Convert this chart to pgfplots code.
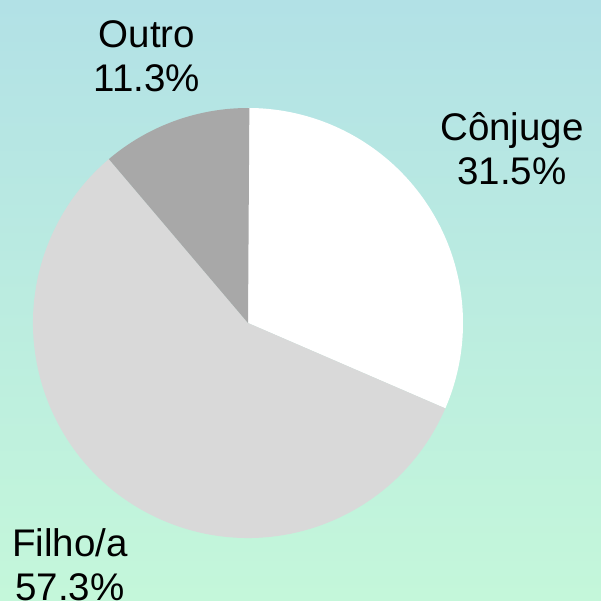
\documentclass[border=0pt]{standalone}
\usepackage{fontspec}
\setmainfont{Liberation Sans}
\usepackage{pgfplots}
\usepackage{pgfplotstable}
\pgfplotsset{compat=1.18}

\definecolor{bgtop}{RGB}{178,225,230}
\definecolor{bgbot}{RGB}{196,247,218}
\definecolor{cconj}{RGB}{255,255,255}
\definecolor{cfilho}{RGB}{217,217,217}
\definecolor{coutro}{RGB}{168,168,168}

% share (%) and label position (pt from pie centre)
\pgfplotstableread[col sep=comma]{
label,pct,lx,ly
Cônjuge,31.5,264,174
Filho/a,57.3,-178,-242
Outro,11.3,-101,267
}\piedata

\newcommand\getrow[1]{%
  \pgfplotstablegetelem{#1}{pct}\of\piedata \let\pct\pgfplotsretval
  \pgfplotstablegetelem{#1}{label}\of\piedata \let\lab\pgfplotsretval
  \pgfplotstablegetelem{#1}{lx}\of\piedata \let\lx\pgfplotsretval
  \pgfplotstablegetelem{#1}{ly}\of\piedata \let\ly\pgfplotsretval}

% cumulative angles, clockwise from 12 o'clock
\getrow{0}\pgfmathsetmacro\aA{90}\pgfmathsetmacro\aB{90-3.6*\pct}
\let\labA\lab\let\pctA\pct\let\lxA\lx\let\lyA\ly
\getrow{1}\pgfmathsetmacro\aC{\aB-3.6*\pct}
\let\labB\lab\let\pctB\pct\let\lxB\lx\let\lyB\ly
\getrow{2}\pgfmathsetmacro\aD{\aC-3.6*\pct}
\let\labC\lab\let\pctC\pct\let\lxC\lx\let\lyC\ly

\def\R{215pt}

\begin{document}
\begin{tikzpicture}
\begin{axis}[
  x=1pt, y=1pt,
  xmin=-248, xmax=353, ymin=-278, ymax=323,
  hide axis, scale only axis,
  clip=true,
]
\shade[top color=bgtop, bottom color=bgbot]
  (axis cs:-248,-278) rectangle (axis cs:353,323);
\fill[cconj] (axis cs:0,0) -- ++(\aA:\R) arc[start angle=\aA, end angle=\aB, radius=\R] -- cycle;
\fill[cfilho] (axis cs:0,0) -- ++(\aB:\R) arc[start angle=\aB, end angle=\aC, radius=\R] -- cycle;
\fill[coutro] (axis cs:0,0) -- ++(\aC:\R) arc[start angle=\aC, end angle=\aD, radius=\R] -- cycle;
\node[align=center, font=\fontsize{38.5}{44}\selectfont] at (axis cs:\lxA,\lyA) {\labA\\\pctA\%};
\node[align=center, font=\fontsize{38.5}{44}\selectfont] at (axis cs:\lxB,\lyB) {\labB\\\pctB\%};
\node[align=center, font=\fontsize{38.5}{44}\selectfont] at (axis cs:\lxC,\lyC) {\labC\\\pctC\%};
\end{axis}
\pgfresetboundingbox
\useasboundingbox (current axis.south west) rectangle (current axis.north east);
\end{tikzpicture}
\end{document}
